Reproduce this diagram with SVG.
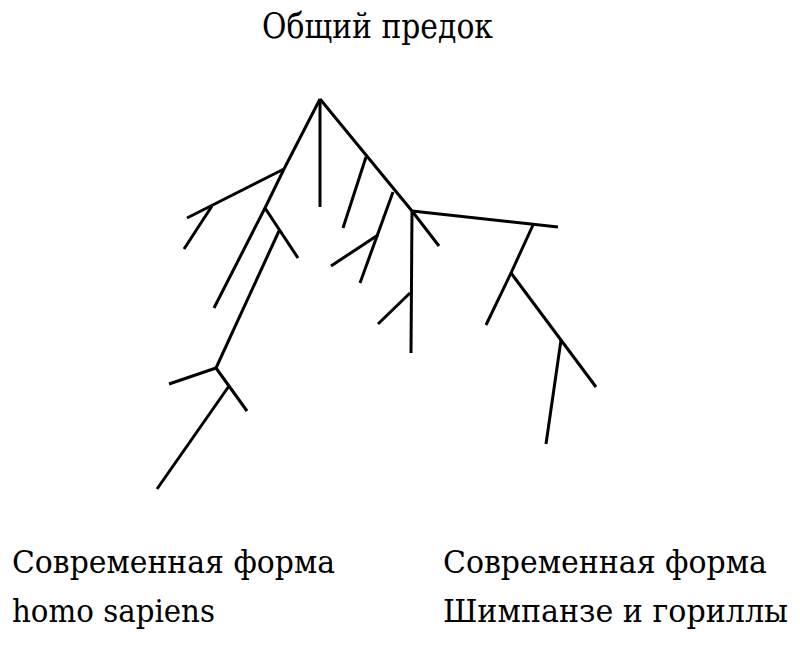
<svg xmlns="http://www.w3.org/2000/svg" width="800" height="646" viewBox="0 0 800 646">
<style>
.t{font-family:"DejaVu Serif",serif;fill:#000}
.c line,.c polyline{stroke:#000;stroke-width:3;fill:none;stroke-linecap:butt;stroke-linejoin:miter}
</style>
<rect width="800" height="646" fill="#fff"/>
<g id="title"><text class="t" x="262" y="38" font-size="36" textLength="231" lengthAdjust="spacingAndGlyphs">Общий предок</text></g>
<g class="c" id="connectors">
<line x1="320" y1="99" x2="320" y2="207"/>
<polyline points="320,99 284,169 265,208 214,308"/>
<line x1="284" y1="169" x2="187" y2="218"/>
<line x1="212" y1="206" x2="184" y2="249"/>
<line x1="265" y1="208" x2="298" y2="258"/>
<line x1="279" y1="231" x2="216" y2="368"/>
<line x1="216" y1="368" x2="169" y2="384"/>
<line x1="216" y1="368" x2="247" y2="411"/>
<line x1="229" y1="386" x2="157" y2="489"/>
<polyline points="320,99 412,211 439,246"/>
<line x1="366" y1="157" x2="343" y2="228"/>
<line x1="393" y1="192" x2="360" y2="283"/>
<line x1="378" y1="235" x2="331" y2="266"/>
<line x1="412" y1="211" x2="411" y2="353"/>
<line x1="410" y1="293" x2="378" y2="324"/>
<line x1="412" y1="211" x2="558" y2="227"/>
<polyline points="533,225 511,273 486,325"/>
<line x1="511" y1="273" x2="596" y2="387"/>
<line x1="561" y1="340" x2="546" y2="444"/>
</g>
<g id="label-left">
<text class="t" x="12" y="573" font-size="31" textLength="323" lengthAdjust="spacingAndGlyphs">Современная форма</text>
<text class="t" x="12" y="622" font-size="31" textLength="203" lengthAdjust="spacingAndGlyphs">homo sapiens</text>
</g>
<g id="label-right">
<text class="t" x="443" y="573" font-size="31" textLength="324" lengthAdjust="spacingAndGlyphs">Современная форма</text>
<text class="t" x="443" y="622" font-size="31" textLength="345" lengthAdjust="spacingAndGlyphs">Шимпанзе и гориллы</text>
</g>
</svg>
